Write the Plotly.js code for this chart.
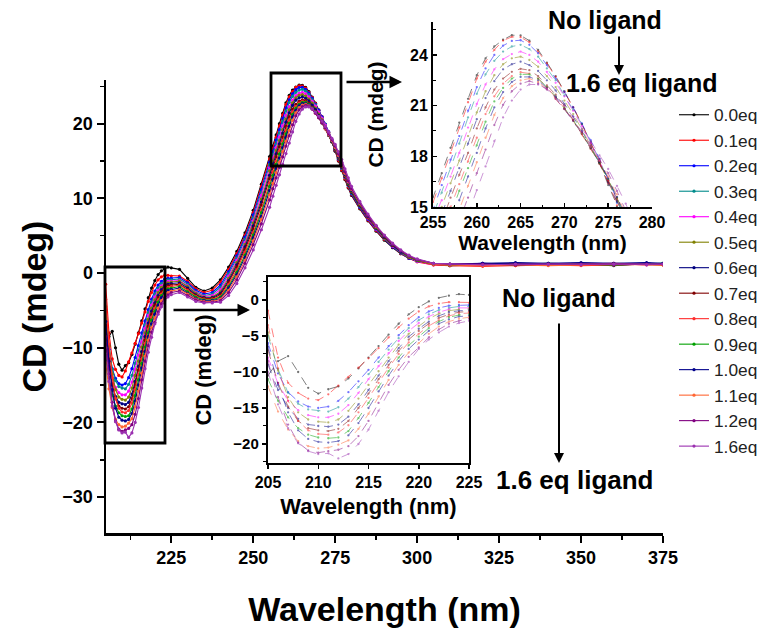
<!DOCTYPE html>
<html>
<head>
<meta charset="utf-8">
<script src="https://cdn.plot.ly/plotly-3.0.1.min.js"></script>
<style>html,body{margin:0;padding:0;background:#fff;}#chart{width:766px;height:633px;}</style>
</head>
<body>
<div id="chart"></div>
<script>
// ---------------- DATA ----------------
const wavelength = [
  205,206,207,208,209,210,211,212,213,214,215,216,217,218,219,220,221,222,223,224,225,
  227.5,230,232.5,235,237.5,240,242.5,245,247.5,250,252.5,
  255,256,257,258,259,260,261,262,263,264,265,266,267,268,269,270,271,272,273,274,275,276,277,278,279,280,
  282.5,285,287.5,290,292.5,295,297.5,300,305,310,320,330,340,350,360,370,375
];

const seriesNames = ['0.0eq','0.1eq','0.2eq','0.3eq','0.4eq','0.5eq','0.6eq','0.7eq','0.8eq','0.9eq','1.0eq','1.1eq','1.2eq','1.6eq'];

const cd00 = [-10.5,-8.5,-7.8,-10.0,-12.2,-13.0,-12.4,-12.0,-10.9,-9.5,-8.0,-6.4,-4.8,-3.3,-2.0,-1.0,-0.2,0.3,0.6,0.8,0.7,
  0.5,-0.7,-1.9,-2.4,-2.0,-0.9,0.8,2.9,5.4,8.4,11.9,
  15.6,17.0,18.5,20.0,21.4,22.8,23.8,24.5,24.9,25.17,25.15,24.85,24.3,23.55,22.75,21.85,20.9,19.9,18.8,17.65,16.3,15.0,13.7,12.5,11.4,10.4,
  8.6,7.0,5.6,4.4,3.4,2.6,2.0,1.6,1.2,1.0,1.3,1.1,1.3,1.2,1.0,1.3,1.2];
const cd01 = [-1.5,-8.0,-11.5,-12.9,-13.7,-13.9,-13.1,-11.9,-10.7,-9.4,-8.1,-6.7,-5.2,-3.8,-2.6,-1.6,-0.9,-0.5,-0.3,-0.3,-0.4,
  -0.4,-1.1,-2.1,-2.6,-2.3,-1.2,0.5,2.6,5.1,8.1,11.6,
  15.3,16.7,18.2,19.7,21.2,22.6,23.6,24.3,24.85,25.07,25.05,24.75,24.2,23.5,22.7,21.8,20.9,19.9,18.85,17.7,16.4,15.1,13.8,12.6,11.5,10.5,
  8.7,7.1,5.7,4.5,3.5,2.6,2.0,1.5,1.1,1.1,1.2,1.0,1.2,1.3,1.1,1.2,1.1];
const cd02 = [-6.0,-10.2,-12.8,-14.1,-14.8,-15.0,-14.8,-14.0,-12.8,-11.3,-9.7,-8.0,-6.4,-4.9,-3.5,-2.4,-1.6,-1.1,-0.8,-0.7,-0.7,
  -0.6,-1.3,-2.3,-2.8,-2.6,-1.6,0.2,2.3,4.8,7.8,11.2,
  14.85,16.3,17.8,19.2,20.7,22.1,23.2,24.0,24.55,24.83,24.87,24.6,24.1,23.4,22.6,21.8,20.9,19.95,18.95,17.85,16.6,15.25,14.0,12.8,11.7,10.6,
  8.8,7.2,5.8,4.6,3.5,2.7,2.0,1.6,1.2,1.1,1.3,1.2,1.2,1.1,1.2,1.3,1.2];
const cd03 = [-5.0,-9.6,-12.9,-14.4,-15.2,-15.4,-15.5,-14.9,-13.7,-12.1,-10.3,-8.6,-6.9,-5.3,-3.9,-2.8,-2.0,-1.4,-1.1,-0.9,-0.9,
  -0.8,-1.5,-2.5,-3.0,-2.8,-1.9,-0.1,2.0,4.5,7.4,10.8,
  14.5,15.85,17.3,18.75,20.3,21.7,22.85,23.65,24.2,24.5,24.6,24.35,23.9,23.2,22.5,21.6,20.75,19.9,18.85,17.8,16.55,15.3,14.0,12.8,11.7,10.7,
  8.9,7.3,5.9,4.6,3.6,2.7,2.1,1.6,1.2,1.0,1.1,1.2,1.3,1.2,1.1,1.2,1.3];
const cd04 = [-8.0,-11.6,-14.0,-15.3,-16.0,-16.3,-16.3,-15.8,-14.6,-12.9,-11.0,-9.2,-7.4,-5.7,-4.3,-3.2,-2.3,-1.7,-1.3,-1.1,-1.1,
  -1.0,-1.7,-2.6,-3.1,-3.0,-2.2,-0.4,1.7,4.1,7.0,10.4,
  14.1,15.4,16.8,18.2,19.7,21.1,22.25,23.15,23.75,24.05,24.2,24.0,23.6,23.0,22.35,21.55,20.7,19.8,18.8,17.75,16.55,15.35,14.1,12.9,11.8,10.8,
  9.0,7.3,5.9,4.7,3.6,2.8,2.1,1.6,1.1,1.1,1.2,1.1,1.2,1.2,1.3,1.1,1.2];
const cd05 = [-4.5,-9.8,-13.5,-15.6,-16.6,-16.9,-17.0,-16.6,-15.4,-13.7,-11.8,-9.9,-8.0,-6.2,-4.7,-3.6,-2.6,-1.9,-1.5,-1.3,-1.2,
  -1.1,-1.8,-2.7,-3.2,-3.2,-2.5,-0.7,1.4,3.8,6.7,9.9,
  13.7,15.0,16.4,17.75,19.2,20.6,21.85,22.8,23.45,23.8,23.9,23.7,23.3,22.75,22.1,21.3,20.5,19.6,18.65,17.65,16.5,15.35,14.1,12.9,11.8,10.8,
  9.0,7.4,6.0,4.7,3.7,2.8,2.1,1.7,1.2,1.2,1.1,1.2,1.1,1.3,1.2,1.2,1.1];
const cd06 = [-9.0,-12.5,-15.0,-16.5,-17.3,-17.5,-17.6,-17.3,-16.2,-14.5,-12.5,-10.5,-8.5,-6.7,-5.1,-4.0,-3.0,-2.2,-1.7,-1.5,-1.4,
  -1.3,-2.0,-2.9,-3.3,-3.3,-2.7,-1.0,1.1,3.5,6.3,9.5,
  13.1,14.6,15.95,17.3,18.75,20.2,21.45,22.45,23.15,23.45,23.6,23.4,23.05,22.5,21.9,21.1,20.35,19.5,18.55,17.6,16.45,15.35,14.1,12.9,11.8,10.8,
  9.0,7.4,6.0,4.8,3.7,2.8,2.2,1.7,1.2,1.1,1.2,1.3,1.2,1.1,1.2,1.3,1.2];
const cd07 = [-7.0,-11.5,-14.8,-16.8,-17.8,-18.1,-18.2,-17.9,-16.8,-15.0,-13.0,-11.0,-9.0,-7.1,-5.5,-4.3,-3.3,-2.5,-2.0,-1.7,-1.6,
  -1.5,-2.2,-3.0,-3.4,-3.4,-2.9,-1.2,0.8,3.2,5.9,9.1,
  12.65,14.15,15.55,16.9,18.2,19.65,20.9,21.95,22.6,23.0,23.18,23.1,22.75,22.2,21.65,21.0,20.15,19.35,18.45,17.55,16.55,15.5,14.25,13.0,11.9,10.9,
  9.1,7.5,6.1,4.8,3.7,2.9,2.2,1.7,1.2,1.0,1.1,1.2,1.1,1.2,1.3,1.2,1.2];
const cd08 = [-3.5,-9.5,-14.0,-16.8,-18.1,-18.6,-18.7,-18.4,-17.4,-15.6,-13.6,-11.5,-9.4,-7.5,-5.9,-4.7,-3.6,-2.8,-2.2,-1.9,-1.8,
  -1.6,-2.3,-3.1,-3.5,-3.5,-3.1,-1.5,0.4,2.8,5.4,8.5,
  12.05,13.55,15.0,16.35,17.7,19.1,20.5,21.55,22.3,22.75,22.98,22.9,22.6,22.1,21.5,20.85,20.1,19.3,18.45,17.6,16.6,15.55,14.35,13.1,12.0,11.0,
  9.2,7.5,6.1,4.9,3.8,2.9,2.2,1.7,1.1,1.0,0.9,1.0,1.1,1.0,1.1,1.2,1.1];
const cd09 = [-11.0,-14.0,-16.3,-17.8,-18.7,-19.1,-19.2,-19.1,-18.2,-16.4,-14.3,-12.1,-9.9,-8.0,-6.3,-5.1,-3.9,-3.0,-2.4,-2.1,-2.0,
  -1.8,-2.5,-3.2,-3.6,-3.6,-3.2,-1.8,0.1,2.4,5.1,8.1,
  11.6,13.1,14.55,15.95,17.3,18.65,20.05,21.25,22.05,22.6,22.85,22.85,22.6,22.1,21.55,20.85,20.15,19.35,18.5,17.6,16.65,15.55,14.35,13.15,12.0,11.0,
  9.2,7.6,6.1,4.9,3.8,2.9,2.2,1.7,1.2,1.1,1.2,1.1,1.2,1.2,1.1,1.2,1.3];
const cd10 = [-6.5,-11.8,-15.6,-18.1,-19.3,-19.7,-19.8,-19.6,-18.8,-17.1,-15.0,-12.7,-10.5,-8.5,-6.8,-5.5,-4.3,-3.3,-2.7,-2.3,-2.2,
  -2.0,-2.7,-3.4,-3.7,-3.7,-3.4,-2.0,-0.2,2.1,4.7,7.6,
  11.05,12.55,14.0,15.4,16.8,18.2,19.65,20.9,21.8,22.4,22.7,22.7,22.5,22.05,21.5,20.8,20.1,19.35,18.5,17.65,16.7,15.6,14.45,13.2,12.1,11.1,
  9.3,7.6,6.2,4.9,3.8,2.9,2.3,1.8,1.3,1.2,1.3,1.4,1.3,1.4,1.3,1.4,1.3];
const cd11 = [-12.0,-15.5,-18.0,-19.6,-20.3,-20.6,-20.5,-20.1,-19.5,-17.9,-15.8,-13.4,-11.1,-9.0,-7.3,-6.0,-4.7,-3.7,-3.0,-2.6,-2.4,
  -2.2,-2.8,-3.5,-3.8,-3.8,-3.5,-2.3,-0.5,1.7,4.3,7.2,
  10.5,12.0,13.45,14.85,16.25,17.65,19.1,20.45,21.45,22.15,22.5,22.6,22.4,22.0,21.4,20.8,20.15,19.35,18.55,17.75,16.8,15.75,14.6,13.35,12.2,11.2,
  9.3,7.7,6.2,5.0,3.9,3.0,2.3,1.8,1.2,1.1,1.0,1.1,1.0,1.1,1.2,1.1,1.1];
const cd12 = [-8.5,-13.5,-17.3,-19.8,-20.9,-21.2,-21.0,-20.8,-20.3,-18.9,-16.8,-14.3,-11.8,-9.7,-7.9,-6.6,-5.2,-4.1,-3.3,-2.9,-2.6,
  -2.4,-3.0,-3.6,-3.9,-3.9,-3.7,-2.6,-0.9,1.3,3.8,6.6,
  9.8,11.3,12.75,14.15,15.55,17.0,18.4,19.85,21.05,21.85,22.3,22.45,22.3,21.95,21.4,20.8,20.15,19.45,18.65,17.85,17.0,15.95,14.85,13.55,12.35,11.3,
  9.4,7.7,6.3,5.0,3.9,3.0,2.3,1.8,1.3,1.2,1.2,1.1,1.2,1.2,1.1,1.2,1.2];
const cd16 = [-10.0,-14.5,-17.8,-19.9,-21.0,-21.4,-21.3,-22.0,-21.4,-20.0,-18.0,-15.4,-12.8,-10.6,-8.6,-6.8,-5.5,-4.5,-3.7,-3.2,-2.9,
  -2.6,-3.2,-3.8,-4.0,-4.0,-3.9,-3.0,-1.4,0.7,3.1,5.8,
  8.8,10.3,11.75,13.15,14.55,16.0,17.4,18.9,20.3,21.3,21.95,22.25,22.25,22.0,21.55,21.0,20.35,19.65,18.9,18.05,17.25,16.25,15.2,13.95,12.75,11.6,
  9.6,7.9,6.4,5.1,4.0,3.1,2.4,1.9,1.3,1.2,1.1,1.2,1.2,1.1,1.2,1.1,1.2];

const seriesValues = [cd00,cd01,cd02,cd03,cd04,cd05,cd06,cd07,cd08,cd09,cd10,cd11,cd12,cd16];

// ---------------- STYLE ----------------
const colors = ['#000000','#ff0000','#0000ff','#008b8b','#ff00ff','#808000','#000080',
                '#800000','#ff2a2a','#00a000','#00008b','#ff6633','#800080','#9b30b0'];
const W = 766, H = 633;
const fx = p => p / W;
const fy = p => 1 - p / H;
const FONT = 'Liberation Sans, Arial, Helvetica, sans-serif';
const boldFont = (size) => ({family: FONT, size: size, color: '#000', weight: 'bold'});

const traces = [];
seriesValues.forEach((vals, i) => {
  traces.push({
    x: wavelength, y: vals, name: seriesNames[i], type: 'scatter', mode: 'lines+markers',
    xaxis: 'x', yaxis: 'y',
    line: {color: colors[i], width: 1.1},
    marker: {color: colors[i], size: 3.2}
  });
});
seriesValues.forEach((vals, i) => {
  traces.push({
    x: wavelength, y: vals, name: seriesNames[i], type: 'scatter', mode: 'lines+markers',
    xaxis: 'x2', yaxis: 'y2', showlegend: false, opacity: 0.55,
    line: {color: colors[i], width: 0.9, dash: 'dash'},
    marker: {color: colors[i], size: 2.3}
  });
});
seriesValues.forEach((vals, i) => {
  traces.push({
    x: wavelength, y: vals, name: seriesNames[i], type: 'scatter', mode: 'lines+markers',
    xaxis: 'x3', yaxis: 'y3', showlegend: false, opacity: 0.55,
    line: {color: colors[i], width: 0.9, dash: 'dash'},
    marker: {color: colors[i], size: 2.3}
  });
});

const axisBase = {
  showline: true, linecolor: '#000', showgrid: false, zeroline: false,
  tickcolor: '#000', tickmode: 'linear', automargin: false
};

const layout = {
  width: W, height: H,
  margin: {l: 0, r: 0, t: 0, b: 0, autoexpand: false},
  paper_bgcolor: '#ffffff', plot_bgcolor: 'rgba(0,0,0,0)',
  font: {family: FONT, color: '#000'},
  showlegend: true,
  legend: {
    x: fx(674), y: fy(97), xanchor: 'left', yanchor: 'top',
    font: {family: FONT, size: 17.3, color: '#222'},
    bgcolor: 'rgba(0,0,0,0)', borderwidth: 0, tracegroupgap: 0
  },
  xaxis: Object.assign({}, axisBase, {
    domain: [fx(106), fx(663)], range: [205.1, 375], anchor: 'y',
    linewidth: 2.5, ticks: 'outside', ticklen: 7, tickwidth: 2,
    tick0: 225, dtick: 25, tickfont: boldFont(18),
    minor: {tickmode: 'linear', tick0: 212.5, dtick: 12.5, ticks: 'outside', ticklen: 4, tickwidth: 1.5, tickcolor: '#000'},
    title: {text: 'Wavelength (nm)', font: boldFont(34), standoff: 30}
  }),
  yaxis: Object.assign({}, axisBase, {
    domain: [fy(533), fy(80)], range: [-34.8, 25.85], anchor: 'x',
    linewidth: 2.5, ticks: 'outside', ticklen: 7, tickwidth: 2,
    tick0: 0, dtick: 10, tickfont: boldFont(18),
    minor: {tickmode: 'linear', tick0: 5, dtick: 5, ticks: 'outside', ticklen: 4, tickwidth: 1.5, tickcolor: '#000'},
    title: {text: 'CD (mdeg)', font: boldFont(34), standoff: 6}
  }),
  xaxis2: Object.assign({}, axisBase, {
    domain: [fx(433), fx(652)], range: [255, 280], anchor: 'y2',
    linewidth: 2, ticks: 'inside', ticklen: 4, tickwidth: 1.5,
    tick0: 255, dtick: 5, tickfont: boldFont(16),
    minor: {tickmode: 'linear', tick0: 257.5, dtick: 2.5, ticks: 'inside', ticklen: 2.5, tickwidth: 1, tickcolor: '#000'},
    title: {text: 'Wavelength (nm)', font: boldFont(21), standoff: 3}
  }),
  yaxis2: Object.assign({}, axisBase, {
    domain: [fy(207), fy(22)], range: [15, 25.95], anchor: 'x2',
    linewidth: 2, ticks: 'inside', ticklen: 4, tickwidth: 1.5,
    tick0: 15, dtick: 3, tickfont: boldFont(16),
    minor: {tickmode: 'linear', tick0: 16.5, dtick: 1.5, ticks: 'inside', ticklen: 2.5, tickwidth: 1, tickcolor: '#000'},
    title: {text: 'CD (mdeg)', font: boldFont(21), standoff: 21}
  }),
  xaxis3: Object.assign({}, axisBase, {
    domain: [fx(268), fx(469)], range: [205, 225], anchor: 'y3', mirror: true,
    linewidth: 2.2, ticks: 'outside', ticklen: 4, tickwidth: 1.5,
    tick0: 205, dtick: 5, tickfont: boldFont(16),
    title: {text: 'Wavelength (nm)', font: boldFont(22), standoff: 8}
  }),
  yaxis3: Object.assign({}, axisBase, {
    domain: [fy(463), fy(277)], range: [-22.64, 3.19], anchor: 'x3', mirror: true,
    linewidth: 2.2, ticks: 'outside', ticklen: 4, tickwidth: 1.5,
    tick0: 0, dtick: 5, tickfont: boldFont(15),
    minor: {tickmode: 'linear', tick0: 2.5, dtick: 2.5, ticks: 'outside', ticklen: 2.5, tickwidth: 1, tickcolor: '#000'},
    title: {text: 'CD (mdeg)', font: boldFont(22), standoff: 16}
  }),
  shapes: [
    {type: 'rect', xref: 'paper', yref: 'paper', x0: fx(271), x1: fx(341), y0: fy(166), y1: fy(73),
     line: {color: '#000', width: 2.8}, fillcolor: 'rgba(0,0,0,0)'},
    {type: 'rect', xref: 'paper', yref: 'paper', x0: fx(105), x1: fx(165), y0: fy(443), y1: fy(267),
     line: {color: '#000', width: 2.8}, fillcolor: 'rgba(0,0,0,0)'}
  ],
  annotations: [
    {xref: 'paper', yref: 'paper', x: fx(402), y: fy(82), ax: -57, ay: 0, text: '', showarrow: true,
     arrowhead: 2, arrowsize: 1, arrowwidth: 2.5, arrowcolor: '#000'},
    {xref: 'paper', yref: 'paper', x: fx(250), y: fy(310), ax: -78, ay: 0, text: '', showarrow: true,
     arrowhead: 2, arrowsize: 1, arrowwidth: 2.5, arrowcolor: '#000'},
    {xref: 'paper', yref: 'paper', x: fx(619), y: fy(75), ax: 0, ay: -40, text: '', showarrow: true,
     arrowhead: 2, arrowsize: 1, arrowwidth: 2, arrowcolor: '#000'},
    {xref: 'paper', yref: 'paper', x: fx(559), y: fy(463), ax: 0, ay: -141, text: '', showarrow: true,
     arrowhead: 2, arrowsize: 1, arrowwidth: 2, arrowcolor: '#000'},
    {xref: 'paper', yref: 'paper', x: fx(605), y: fy(20), xanchor: 'center', yanchor: 'middle',
     text: 'No ligand', showarrow: false, font: boldFont(25)},
    {xref: 'paper', yref: 'paper', x: fx(564), y: fy(83), xanchor: 'left', yanchor: 'middle',
     text: '1.6 eq ligand', showarrow: false, font: boldFont(25)},
    {xref: 'paper', yref: 'paper', x: fx(559), y: fy(298), xanchor: 'center', yanchor: 'middle',
     text: 'No ligand', showarrow: false, font: boldFont(25)},
    {xref: 'paper', yref: 'paper', x: fx(575), y: fy(480), xanchor: 'center', yanchor: 'middle',
     text: '1.6 eq ligand', showarrow: false, font: boldFont(26)}
  ]
};

Plotly.newPlot('chart', traces, layout, {displayModeBar: false, staticPlot: true});
</script>
</body>
</html>
